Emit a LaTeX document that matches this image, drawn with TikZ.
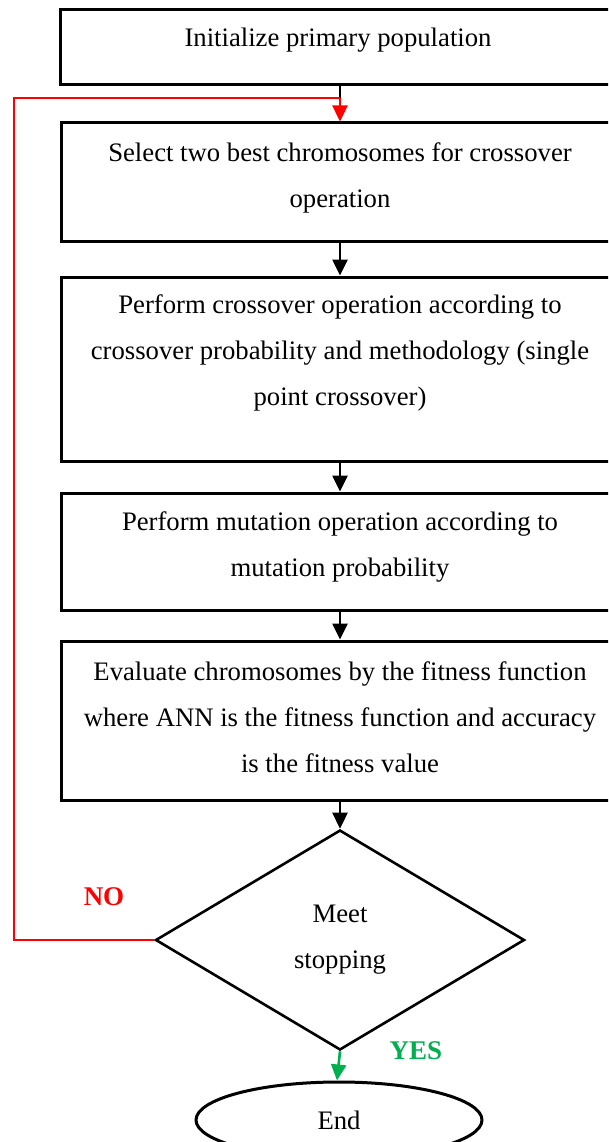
\documentclass[tikz,border=0pt]{standalone}
\usepackage{fontspec}
\setmainfont{Liberation Serif}
\usetikzlibrary{arrows.meta,shapes.geometric}
\definecolor{nored}{HTML}{FF0000}
\definecolor{yesgreen}{HTML}{00B050}
\begin{document}
\begin{tikzpicture}[x=1pt,y=-1pt,
  stepbox/.style={draw=black,line width=3pt,rectangle,minimum width=560pt,inner sep=0pt},
  steptext/.style={align=center,font=\fontsize{26.7}{46}\selectfont,inner sep=0pt},
  flowtip/.style={-{Triangle[length=16pt,width=15pt]}},
  flow/.style={draw=black,line width=2.6pt,flowtip},
  loopback/.style={draw=nored,line width=2.4pt},
  tag/.style={font=\fontsize{27}{30}\selectfont\bfseries,inner sep=0pt}]
\useasboundingbox (0,0) rectangle (608,1142);
\clip (0,0) rectangle (608,1142);
\fill[white] (0,0) rectangle (608,1142);

% process boxes (right side runs past the page edge)
\node[stepbox,minimum height=75pt]  (b1) at (340,47.5) {};
\node[stepbox,minimum height=118pt] (b2) at (341,182) {};
\node[stepbox,minimum height=184pt] (b3) at (341,369) {};
\node[stepbox,minimum height=117pt] (b4) at (341,551.5) {};
\node[stepbox,minimum height=159pt] (b5) at (341,720.5) {};

\node[steptext] (t1) at (338,40) {Initialize primary population};
\node[steptext] (t2) at (340,177.5) {Select two best chromosomes for crossover\\operation};
\node[steptext] (t3) at (340,353) {Perform crossover operation according to\\crossover probability and methodology (single\\point crossover)};
\node[steptext] (t4) at (340,547) {Perform mutation operation according to\\mutation probability};
\node[steptext] (t5) at (340,717) {Evaluate chromosomes by the fitness function\\where ANN is the fitness function and accuracy\\is the fitness value};

% decision and terminator
\node[draw=black,line width=2.6pt,diamond,minimum width=369pt,minimum height=220pt,inner sep=0pt,
      align=center,font=\fontsize{26.7}{46}\selectfont] (d) at (340,940) {Meet\\stopping};
\node[draw=black,line width=3pt,ellipse,minimum width=286pt,minimum height=76pt,inner sep=0pt,
      font=\fontsize{26.7}{30}\selectfont] (e) at (339,1120) {End};

% branch labels
\node[tag,text=nored] (no) at (104,897) {NO};
\node[tag,text=yesgreen] (yes) at (416,1051) {YES};

% main flow
\coordinate (j) at (340,98);
\coordinate (c) at (14,98);
\draw[draw=black,line width=2.6pt] (b1.south -| j) -- (j);
\draw[flow] (b2.south -| j) -- (b3.north -| j);
\draw[flow] (b3.south -| j) -- (b4.north -| j);
\draw[flow] (b4.south -| j) -- (b5.north -| j);
\draw[flow] (b5.south -| j) -- (d.north);

% loop back when stopping criterion not met
\draw[loopback] (d.west) -| (c) -- (j);
\draw[loopback,flowtip] (j) -- (b2.north -| j);

% exit when criterion met
\draw[draw=yesgreen,line width=2.6pt,flowtip] (d.south) -- ([xshift=-2pt]e.north);
\end{tikzpicture}
\end{document}
